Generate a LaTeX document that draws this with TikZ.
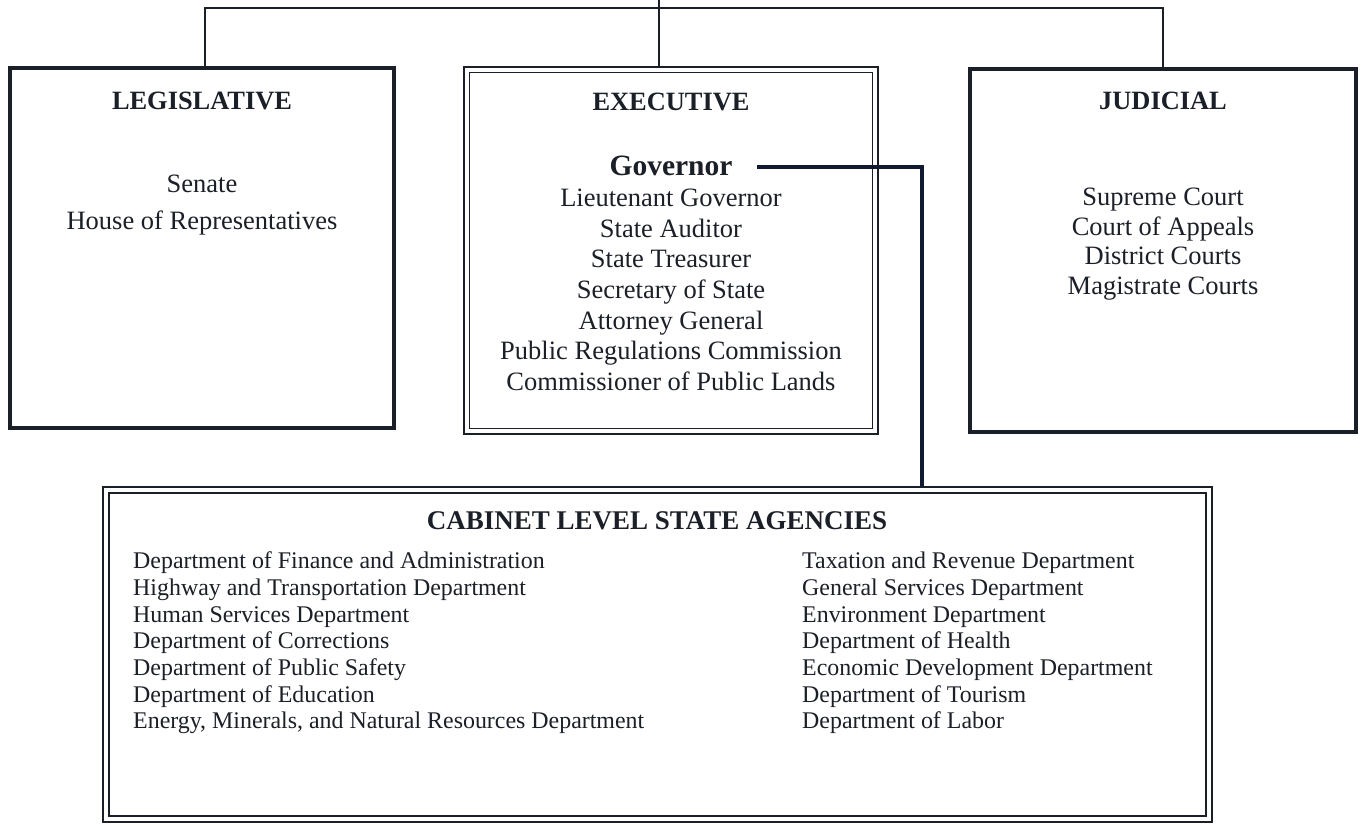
\documentclass[tikz,border=0pt]{standalone}
\usepackage{fontspec}
\setmainfont{Liberation Serif}
\definecolor{ink}{HTML}{1B1F27}
\definecolor{navy}{HTML}{101A30}
\begin{document}
\begin{tikzpicture}[x=1pt,y=-1pt,
  sbox/.style={draw=ink, line width=3.2pt, rectangle, inner sep=0pt, outer sep=0pt},
  douter/.style={draw=ink, line width=2.4pt, rectangle, inner sep=0pt, outer sep=0pt},
  dinner/.style={draw=ink, line width=1.5pt, rectangle, inner sep=0pt, outer sep=0pt},
  tree/.style={draw=ink, line width=1.8pt},
  govline/.style={draw=navy, line width=4.5pt},
  ttl/.style={anchor=base, inner sep=0pt, text=ink, font=\fontsize{26.4}{30}\selectfont\bfseries},
  itm/.style={anchor=base, inner sep=0pt, text=ink, font=\fontsize{26.5}{30}\selectfont},
  gov/.style={anchor=base, inner sep=0pt, text=ink, font=\fontsize{29.5}{32}\selectfont\bfseries},
  cab/.style={anchor=base west, inner sep=0pt, text=ink, font=\fontsize{23.9}{27}\selectfont},
]
\useasboundingbox (0,0) rectangle (1364,825);
\fill[white] (0,0) rectangle (1364,825);

% boxes
\node[sbox, minimum width=384pt, minimum height=360pt] (leg) at (202,248) {};
\node[douter, minimum width=414pt, minimum height=367pt] (exec) at (671,250.5) {};
\node[dinner, minimum width=403pt, minimum height=356pt] (execin) at (671,250.5) {};
\node[sbox, minimum width=386pt, minimum height=363pt] (jud) at (1163,250.5) {};
\node[douter, minimum width=1109pt, minimum height=335pt] (cab) at (657.5,654.5) {};
\node[dinner, minimum width=1097pt, minimum height=323pt] (cabin) at (657.5,654.5) {};

% top tree
\coordinate (top) at (659,0);
\coordinate (barL) at (205,8);
\coordinate (barR) at (1163,8);
\draw[tree] (top) -- (top |- exec.north);
\draw[tree] (barL |- leg.north) -- (barL) -- (barR) -- (barR |- jud.north);

% legislative
\node[ttl] (legt) at (202,109) {LEGISLATIVE};
\node[itm] (leg1) at (202,192) {Senate};
\node[itm] (leg2) at (202,229) {House of Representatives};

% executive
\node[ttl] (exect) at (671,110) {EXECUTIVE};
\node[gov] (govn) at (671,175) {Governor};
\foreach \t [count=\i] in {Lieutenant Governor,State Auditor,State Treasurer,Secretary of State,Attorney General,Public Regulations Commission,Commissioner of Public Lands}
  \node[itm] (ex\i) at (671,176+30.6*\i) {\t};

% judicial
\node[ttl] (judt) at (1163,109) {JUDICIAL};
\foreach \t [count=\i] in {Supreme Court,Court of Appeals,District Courts,Magistrate Courts}
  \node[itm] (ju\i) at (1163,176+29.6*\i) {\t};

% cabinet
\node[ttl, font=\fontsize{27}{30}\selectfont\bfseries] (cabt) at (657,529) {CABINET LEVEL STATE AGENCIES};
\foreach \t [count=\i] in {Department of Finance and Administration,Highway and Transportation Department,Human Services Department,Department of Corrections,Department of Public Safety,Department of Education,{Energy, Minerals, and Natural Resources Department}}
  \node[cab] (cl\i) at (133,542+26.7*\i) {\t};
\foreach \t [count=\i] in {Taxation and Revenue Department,General Services Department,Environment Department,Department of Health,Economic Development Department,Department of Tourism,Department of Labor}
  \node[cab] (cr\i) at (802,542+26.7*\i) {\t};

% governor connector
\coordinate (gstart) at (757,167);
\coordinate (gelbow) at (922,167);
\draw[govline] (gstart) -- (gelbow) -- (gelbow |- cab.north);
\end{tikzpicture}
\end{document}
